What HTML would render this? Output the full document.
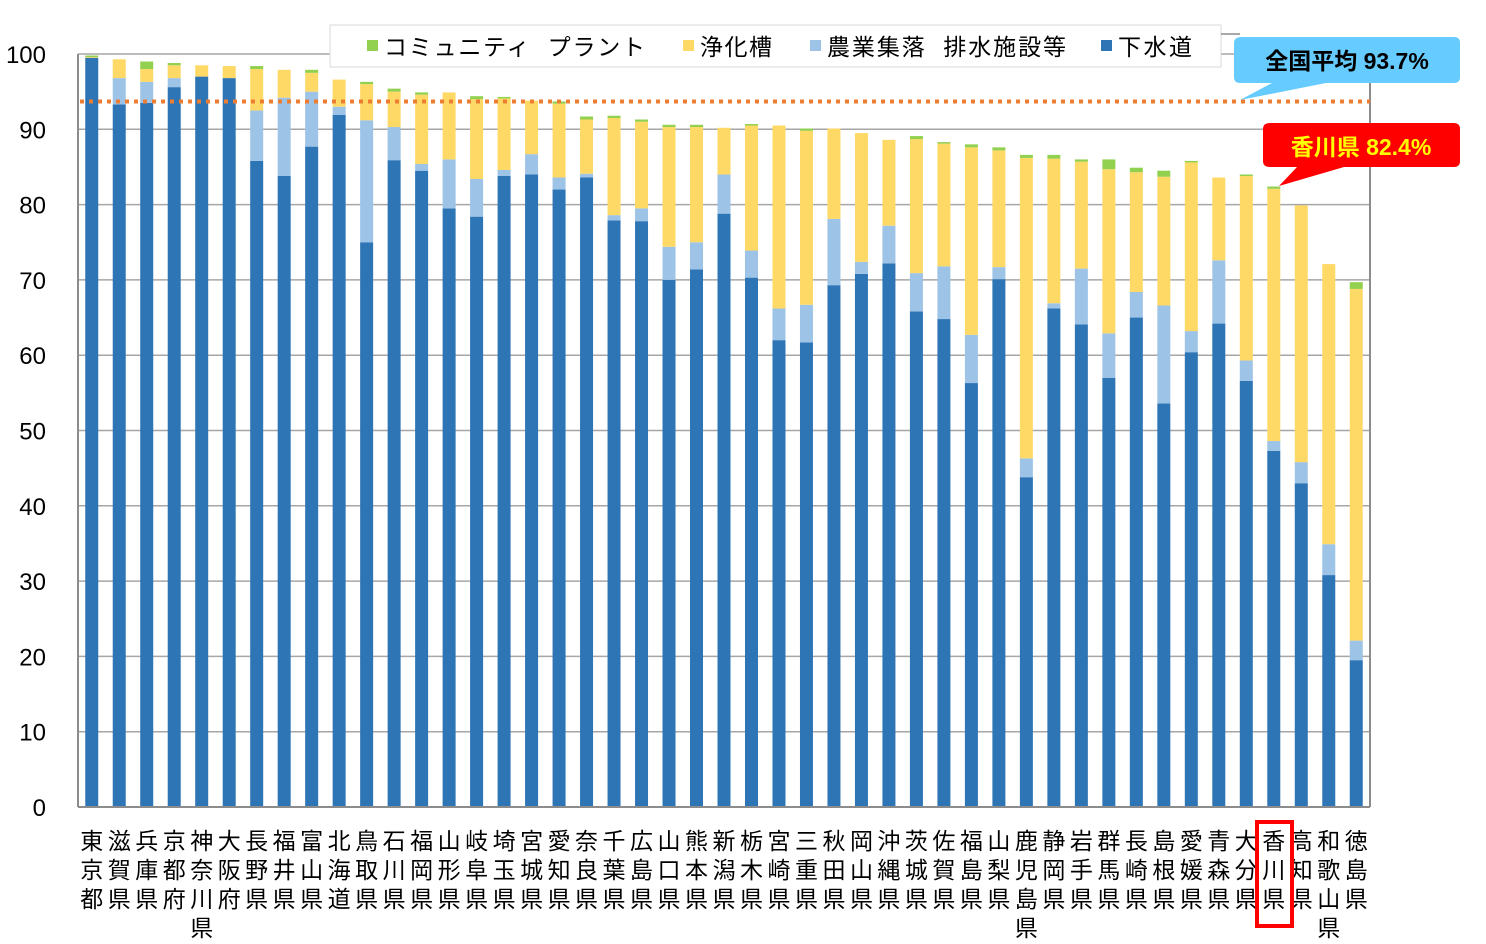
<!DOCTYPE html>
<html><head><meta charset="utf-8"><style>
body{margin:0;background:#fff;}
svg text{font-family:"Liberation Sans","Noto Sans CJK JP",sans-serif;}
</style></head><body>
<svg id="s" width="1486" height="939" xmlns="http://www.w3.org/2000/svg"></svg>
<script>
const D=[
["東京都",99.5,99.5,99.6,99.8],["滋賀県",93.3,96.8,99.3,99.3],["兵庫県",93.5,96.3,98,99],["京都府",95.6,96.8,98.5,98.8],
["神奈川県",97,97,98.5,98.5],["大阪府",96.8,96.8,98.4,98.4],["長野県",85.8,92.5,98,98.4],["福井県",83.8,94.2,97.9,97.9],
["富山県",87.7,95,97.5,97.9],["北海道",91.9,93,96.6,96.6],["鳥取県",75,91.2,96,96.3],["石川県",85.9,90.3,95,95.4],
["福岡県",84.5,85.4,94.6,94.9],["山形県",79.5,86,94.9,94.9],["岐阜県",78.4,83.4,94,94.4],["埼玉県",83.8,84.6,94.1,94.3],
["宮城県",84,86.7,93.8,93.8],["愛知県",82,83.6,93.4,93.7],["奈良県",83.6,84.1,91.3,91.7],["千葉県",77.9,78.6,91.5,91.8],
["広島県",77.8,79.5,91,91.3],["山口県",70,74.4,90.3,90.6],["熊本県",71.4,75,90.3,90.6],["新潟県",78.8,84,90.2,90.2],
["栃木県",70.3,73.9,90.5,90.7],["宮崎県",62,66.2,90.5,90.5],["三重県",61.7,66.7,89.8,90.1],["秋田県",69.3,78.1,90.1,90.1],
["岡山県",70.8,72.4,89.5,89.5],["沖縄県",72.2,77.2,88.6,88.6],["茨城県",65.8,70.9,88.7,89.1],["佐賀県",64.8,71.8,88.1,88.3],
["福島県",56.3,62.7,87.6,88],["山梨県",70.1,71.7,87.2,87.6],["鹿児島県",43.8,46.3,86.2,86.6],["静岡県",66.2,66.9,86.1,86.6],
["岩手県",64.1,71.5,85.7,86],["群馬県",57,62.9,84.7,86],["長崎県",65,68.4,84.3,84.9],["島根県",53.6,66.6,83.7,84.5],
["愛媛県",60.4,63.2,85.6,85.8],["青森県",64.2,72.6,83.6,83.6],["大分県",56.6,59.3,83.8,84],["香川県",47.3,48.6,82.1,82.4],
["高知県",43,45.8,79.9,79.9],["和歌山県",30.8,34.9,72.1,72.1],["徳島県",19.5,22.1,68.8,69.7]];
const L=78,R=1370,Y0=807,K=7.53,P=(R-L)/47;
const y=v=>Y0-v*K;
let h='';
for(let g=0;g<=100;g+=10){h+=`<line x1="${L}" x2="${R}" y1="${y(g)}" y2="${y(g)}" stroke="#a6a6a6" stroke-width="1.5"/>`;
h+=`<text x="46" y="${y(g)+9}" font-size="24" text-anchor="end">${g}</text>`;}
h+=`<line x1="${L}" x2="${L}" y1="${y(100)}" y2="${Y0}" stroke="#8c8c8c" stroke-width="2"/>`;
h+=`<line x1="${R}" x2="${R}" y1="${y(100)}" y2="${Y0}" stroke="#8c8c8c" stroke-width="2"/>`;
const C=["#2E75B6","#9DC3E6","#FFD966","#92D050"];
D.forEach((d,i)=>{const cx=L+P*(i+0.5),x=cx-6.5;let prev=0;
for(let k=0;k<4;k++){const v=d[k+1];if(v>prev){h+=`<rect x="${x}" y="${y(v)}" width="13" height="${(v-prev)*K}" fill="${C[k]}"/>`;}prev=Math.max(prev,v);}
[...d[0]].forEach((c,j)=>{h+=`<text x="${cx}" y="${849+j*29}" font-size="23" text-anchor="middle">${c}</text>`;});
});
h+=`<line x1="${L}" x2="${R}" y1="${Y0}" y2="${Y0}" stroke="#8c8c8c" stroke-width="2"/>`;
h+=`<line x1="${L+2}" x2="${R}" y1="${y(93.7)}" y2="${y(93.7)}" stroke="#ED7D31" stroke-width="4" stroke-dasharray="4,5"/>`;
h+=`<rect x="1257" y="822" width="35" height="104" fill="none" stroke="#ff0000" stroke-width="4"/>`;
h+=`<rect x="330" y="25" width="891" height="42" fill="#fff" stroke="#d9d9d9"/>`;
const lg=[[367,"コミュニティ  プラント",C[3],261],[683,"浄化槽",C[2],72],[810,"農業集落  排水施設等",C[1],239],[1101,"下水道",C[0],74]];
lg.forEach(a=>{h+=`<rect x="${a[0]}" y="40" width="11" height="11" fill="${a[2]}"/><text x="${a[0]+17}" y="55" font-size="23" xml:space="preserve" textLength="${a[3]}" lengthAdjust="spacing">${a[1]}</text>`;});
h+=`<line x1="1221" y1="34" x2="1240" y2="34" stroke="#8c8c8c" stroke-width="1.5"/>`;
h+=`<path d="M1242,37 H1454 Q1460,37 1460,43 V77 Q1460,83 1454,83 H1326 L1240,100 L1272,83 H1240 Q1234,83 1234,77 V43 Q1234,37 1242,37Z" fill="#66CCFF"/>`;
h+=`<text x="1347" y="69" font-size="23" font-weight="bold" text-anchor="middle">全国平均 93.7%</text>`;
h+=`<path d="M1270,123 H1454 Q1460,123 1460,129 V161 Q1460,167 1454,167 H1344 L1279,186 L1297,167 H1270 Q1263,167 1263,161 V129 Q1263,123 1270,123Z" fill="#ff0000"/>`;
h+=`<text x="1361" y="155" font-size="23" font-weight="bold" fill="#ffff00" text-anchor="middle">香川県 82.4%</text>`;
document.getElementById('s').innerHTML=h;
</script>
</body></html>
